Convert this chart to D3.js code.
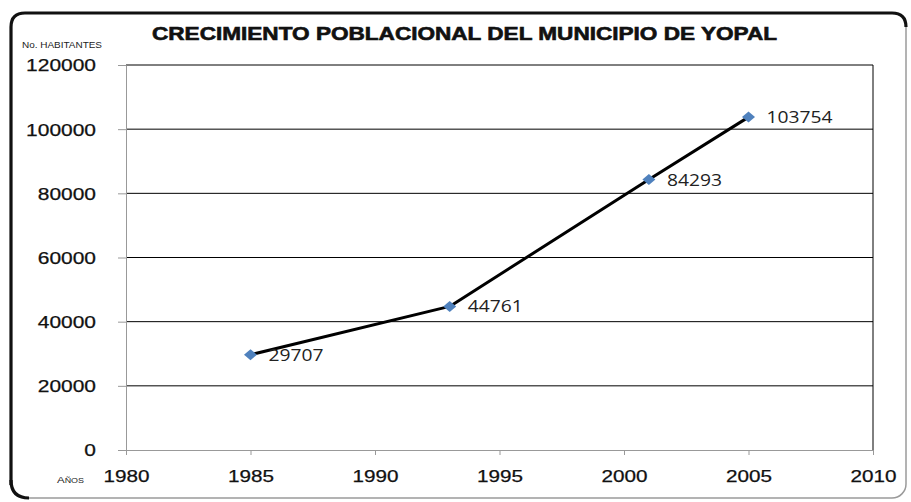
<!DOCTYPE html>
<html>
<head>
<meta charset="utf-8">
<script src="https://cdn.jsdelivr.net/npm/d3@7"></script>
<style>
  html, body { margin: 0; padding: 0; background: #fff; }
  svg { display: block; }
</style>
</head>
<body>
<svg id="chart" width="911" height="502"></svg>
<script>
const titleText = "CRECIMIENTO POBLACIONAL DEL MUNICIPIO DE YOPAL";
const yAxisTitle = "No. HABITANTES";
const years = [1985, 1993, 2001, 2005];
const population = [29707, 44761, 84293, 103754];
const xTicks = [1980, 1985, 1990, 1995, 2000, 2005, 2010];
const yTicks = [0, 20000, 40000, 60000, 80000, 100000, 120000];

const svg = d3.select("#chart");
const plot = { left: 126, right: 873, top: 65, bottom: 450 };

const x = d3.scaleLinear().domain([1980, 2010]).range([plot.left, plot.right]);
const y = d3.scaleLinear().domain([0, 120000]).range([plot.bottom, plot.top]);

// Outer frame (rounded, black on left/top, grey on bottom/right)
svg.append("rect")
  .attr("x", 11).attr("y", 13).attr("width", 895).attr("height", 485)
  .attr("rx", 14).attr("ry", 14)
  .attr("fill", "#fff").attr("stroke", "#9a9a9a").attr("stroke-width", 1.5);
const fr = d3.path();
fr.moveTo(11, 485);
fr.lineTo(11, 27);
fr.quadraticCurveTo(11, 13, 25, 13);
fr.lineTo(892, 13);
fr.quadraticCurveTo(906, 13, 906, 27);
svg.append("path").attr("d", fr.toString())
  .attr("fill", "none").attr("stroke", "#111").attr("stroke-width", 3.2);
const fr2 = d3.path();
fr2.moveTo(11, 480);
fr2.quadraticCurveTo(11, 498, 29, 498);
svg.append("path").attr("d", fr2.toString())
  .attr("fill", "none").attr("stroke", "#111").attr("stroke-width", 3.2);

// Title
svg.append("text")
  .attr("x", 152).attr("y", 40)
  .attr("font-family", "Liberation Sans, Arial, sans-serif")
  .attr("font-weight", "bold").attr("font-size", 17.5)
  .attr("fill", "#111").attr("stroke", "#111").attr("stroke-width", 0.6)
  .attr("textLength", 625).attr("lengthAdjust", "spacingAndGlyphs")
  .text(titleText);

// Y axis title
svg.append("text")
  .attr("x", 22).attr("y", 48)
  .attr("font-family", "Liberation Sans, Arial, sans-serif")
  .attr("font-size", 8.5).attr("fill", "#222")
  .attr("textLength", 80).attr("lengthAdjust", "spacingAndGlyphs")
  .text(yAxisTitle);

// X axis title (small caps style)
const anos = svg.append("text")
  .attr("x", 57).attr("y", 483)
  .attr("font-family", "Liberation Sans, Arial, sans-serif")
  .attr("fill", "#222")
  .attr("textLength", 27).attr("lengthAdjust", "spacingAndGlyphs");
anos.append("tspan").attr("font-size", 9).text("A");
anos.append("tspan").attr("font-size", 7).text("ÑOS");

// Gridlines (black)
svg.append("g")
  .selectAll("line")
  .data(yTicks.filter(d => d > 0))
  .join("line")
  .attr("x1", plot.left).attr("x2", plot.right)
  .attr("y1", d => y(d)).attr("y2", d => y(d))
  .attr("stroke", "#000").attr("stroke-width", 1);

// Right plot border
svg.append("line")
  .attr("x1", plot.right).attr("x2", plot.right)
  .attr("y1", plot.top).attr("y2", plot.bottom)
  .attr("stroke", "#000").attr("stroke-width", 1);

// Y axis
const yAxis = svg.append("g")
  .attr("transform", `translate(${plot.left},0)`)
  .call(d3.axisLeft(y).tickValues(yTicks).tickSize(8).tickPadding(22).tickSizeOuter(0).tickFormat(d3.format("d")));
yAxis.select(".domain").attr("stroke", "#999");
yAxis.selectAll(".tick line").attr("stroke", "#999");
yAxis.selectAll(".tick text")
  .attr("font-family", "Liberation Sans, Arial, sans-serif")
  .attr("font-size", 16).attr("fill", "#111")
  .attr("stroke", "#111").attr("stroke-width", 0.25)
  .attr("dy", "0.37em")
  .attr("textLength", d => String(d).length * 11.65)
  .attr("lengthAdjust", "spacingAndGlyphs");

// X axis
const xAxis = svg.append("g")
  .attr("transform", `translate(0,${plot.bottom})`)
  .call(d3.axisBottom(x).tickValues(xTicks).tickSize(5).tickPadding(16).tickSizeOuter(0).tickFormat(d3.format("d")));
xAxis.select(".domain").attr("stroke", "#999");
xAxis.selectAll(".tick line").attr("stroke", "#999");
xAxis.selectAll(".tick text")
  .attr("font-family", "Liberation Sans, Arial, sans-serif")
  .attr("font-size", 16).attr("fill", "#111")
  .attr("stroke", "#111").attr("stroke-width", 0.25)
  .attr("y", 0).attr("dy", 32)
  .attr("textLength", 46)
  .attr("lengthAdjust", "spacingAndGlyphs");

// Series
const data = years.map((yr, i) => ({ year: yr, value: population[i] }));
const line = d3.line().x(d => x(d.year)).y(d => y(d.value));
svg.append("path")
  .datum(data)
  .attr("d", line)
  .attr("fill", "none").attr("stroke", "#000")
  .attr("stroke-width", 3).attr("stroke-linejoin", "round");

// Diamond markers
svg.append("g").selectAll("path")
  .data(data)
  .join("path")
  .attr("transform", d => `translate(${x(d.year)},${y(d.value)})`)
  .attr("d", "M0,-5.5L6.5,0L0,5.5L-6.5,0Z")
  .attr("fill", "#4F81BD");

// Data labels
svg.append("g").selectAll("text")
  .data(data)
  .join("text")
  .attr("x", d => x(d.year) + 18)
  .attr("y", d => y(d.value) + 6)
  .attr("font-family", "Open Sans, Liberation Sans, sans-serif")
  .attr("font-size", 16).attr("fill", "#222")
  .attr("textLength", d => String(d.value).length * 11)
  .attr("lengthAdjust", "spacingAndGlyphs")
  .text(d => d.value);
</script>
</body>
</html>
